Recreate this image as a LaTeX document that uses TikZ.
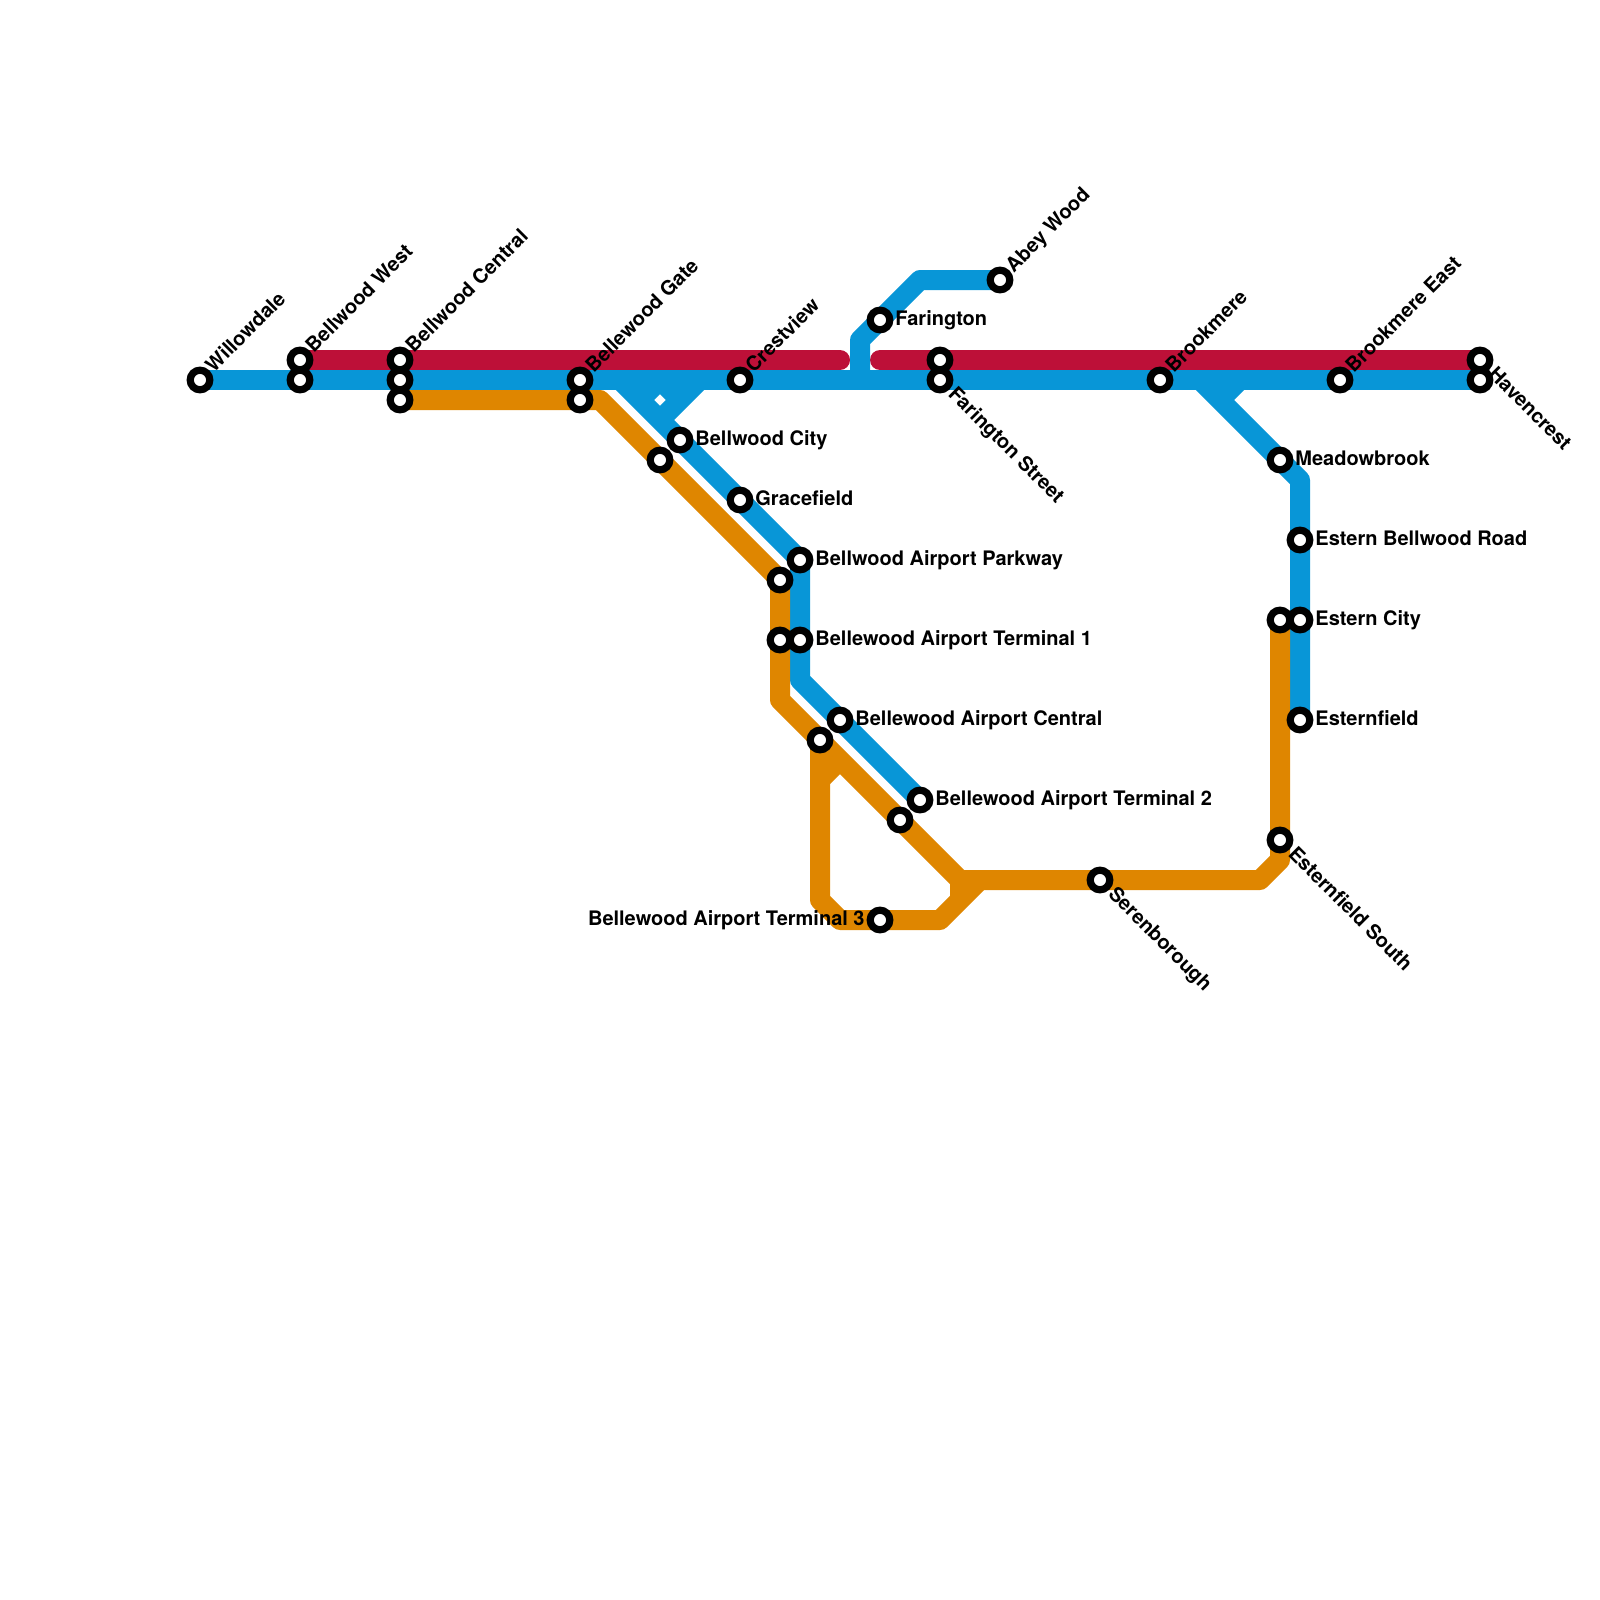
\documentclass[tikz,border=0pt]{standalone}
\usepackage{fontspec}
\setmainfont{TeX Gyre Heros}
\definecolor{lblue}{HTML}{0896D7}
\definecolor{lred}{HTML}{BD1038}
\definecolor{lorange}{HTML}{DF8600}
\tikzset{
  metro/.style={line width=10pt,line join=round},
  blueline/.style={metro,draw=lblue},
  redline/.style={metro,draw=lred,line cap=round},
  orangeline/.style={metro,draw=lorange},
  stn/.style={circle,draw=black,fill=white,line width=3.6pt,minimum size=9.8pt,inner sep=0pt,outer sep=0pt},
  lbl/.style={font=\fontsize{10}{11}\bfseries\selectfont,inner sep=0pt,text=black},
  lr/.style={lbl,anchor=base west},
  ll/.style={lbl,anchor=base east},
  lu/.style={lbl,anchor=base west,rotate=45},
  ld/.style={lbl,anchor=base west,rotate=-45}
}
\begin{document}
\begin{tikzpicture}[x=0.5pt,y=-0.5pt]
\useasboundingbox (0,0) rectangle (1600,1600);
% station positions
\foreach \n/\x/\y in {willow/200/380,bwa/300/360,bwb/300/380,bca/400/360,bcb/400/380,bcc/400/400,
 bga/580/380,bgb/580/400,crest/740/380,bcity/680/440,bco/660/460,grace/740/500,park/800/560,parko/780/580,
 toa/780/640,tob/800/640,cent/840/720,ceno/820/740,ttwo/920/800,ttwoo/900/820,tthree/880/920,
 far/880/320,abey/1000/280,fsa/940/360,fsb/940/380,brook/1160/380,mead/1280/460,bre/1340/380,
 hva/1480/360,hvb/1480/380,ebr/1300/540,eca/1280/620,ecb/1300/620,efd/1300/720,efs/1280/840,seren/1100/880,
 % bends
 redend/840/360,redstart/880/360,
 upa/860/380,upb/860/340,upc/920/280,
 dga/620/380,dgb/800/560,dgc/800/680,
 dma/700/380,dmb/660/420,dmc/660/380,dmd/640/400,dme/680/400,
 ega/1200/380,egb/1300/480,egc/1240/380,egd/1220/400,
 ora/600/400,orb/780/580,orc/780/700,ord/960/880,ore/1260/880,orf/1280/860,
 oga/820/780,ogb/840/760,ogc/820/740,ogd/820/900,oge/840/920,ogf/940/920,ogg/980/880,ogh/960/900}
 {\coordinate (\n) at (\x,\y);}
% lines
\draw[redline] (bwa) -- (redend);
\draw[redline] (redstart) -- (hva);
\draw[blueline] (willow) -- (hvb);
\draw[blueline] (upa) -- (upb) -- (upc) -- (abey);
\draw[blueline] (dga) -- (dgb) -- (dgc) -- (ttwo);
\draw[blueline] (dma) -- (dmb);
\draw[blueline] (dme) -- (dmc) -- (dmd);
\draw[blueline] (ega) -- (egb) -- (efd);
\draw[blueline] (egc) -- (egd);
\draw[orangeline] (bcc) -- (ora) -- (orb) -- (orc) -- (ord) -- (ore) -- (orf) -- (eca);
\draw[orangeline] (ogc) -- (ogd) -- (oge) -- (ogf) -- (ogg);
\draw[orangeline] (oga) -- (ogb);
\draw[orangeline] (ord) -- (ogh);
% stations
\foreach \n in {willow,bwa,bwb,bca,bcb,bcc,bga,bgb,crest,bcity,bco,grace,park,parko,toa,tob,cent,ceno,ttwo,ttwoo,tthree,far,abey,fsa,fsb,brook,mead,bre,hva,hvb,ebr,eca,ecb,efd,efs,seren}
 {\node[stn] (n\n) at (\n) {};}
% labels
\foreach \n/\t in {bcity/Bellwood City,grace/Gracefield,park/Bellwood Airport Parkway,tob/Bellewood Airport Terminal 1,cent/Bellewood Airport Central,ttwo/Bellewood Airport Terminal 2,far/Farington,mead/Meadowbrook,ebr/Estern Bellwood Road,ecb/Estern City,efd/Esternfield}
 {\node[lr] (l\n) at ([xshift=7.5pt,yshift=-2.5pt]\n) {\t};}
\node[ll] (ltthree) at ([xshift=-7.5pt,yshift=-2.5pt]tthree) {Bellewood Airport Terminal 3};
\foreach \n/\t in {willow/Willowdale,bwa/Bellwood West,bca/Bellwood Central,bga/Bellewood Gate,crest/Crestview,abey/Abey Wood,brook/Brookmere,bre/Brookmere East}
 {\node[lu] (l\n) at ([xshift=6.75pt,yshift=3.25pt]\n) {\t};}
\foreach \n/\t in {fsb/Farington Street,hva/Havencrest,seren/Serenborough,efs/Esternfield South}
 {\node[ld] (l\n) at ([xshift=3.5pt,yshift=-7.5pt]\n) {\t};}
\end{tikzpicture}
\end{document}
